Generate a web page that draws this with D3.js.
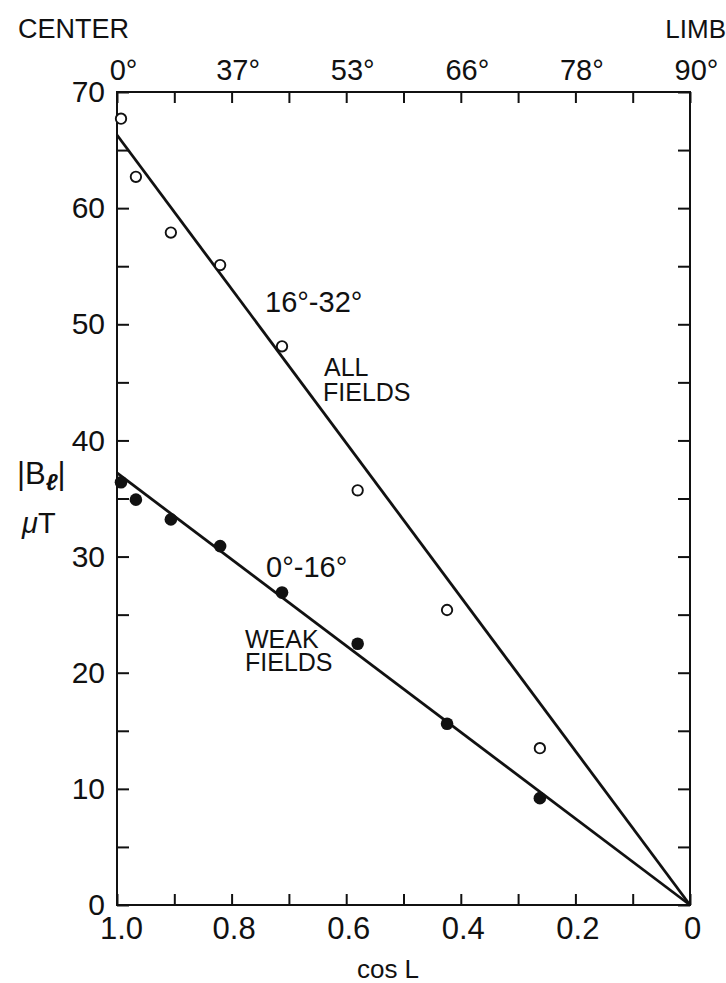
<!DOCTYPE html>
<html>
<head>
<meta charset="utf-8">
<script src="https://cdn.jsdelivr.net/npm/d3@7"></script>
<style>
  body { margin: 0; background: #fff; }
  svg text { font-family: "Liberation Sans", Arial, sans-serif; fill: #111; }
</style>
</head>
<body>
<svg id="chart" width="726" height="983"></svg>
<script>
// cos L of each latitude bin
const cosL = [0.993, 0.967, 0.906, 0.820, 0.712, 0.580, 0.424, 0.262];
// |B_l| in microtesla
const allFields = [67.7, 62.7, 57.9, 55.1, 48.1, 35.7, 25.4, 13.5];
const weakFields = [36.4, 34.9, 33.2, 30.9, 26.9, 22.5, 15.6, 9.2];
// fitted lines through the origin
const fitCos = [1, 0];
const fitAll = [66.3, 0];
const fitWeak = [37.2, 0];

const bottomTicks = [1.0, 0.8, 0.6, 0.4, 0.2, 0];
const bottomLabels = ["1.0", "0.8", "0.6", "0.4", "0.2", "0"];
const topTicks = [1.0, 0.8, 0.6, 0.4, 0.2, 0];
const topLabels = ["0°", "37°", "53°", "66°", "78°", "90°"];
const yTicks = [0, 10, 20, 30, 40, 50, 60, 70];

const mLeft = 117, mRight = 690, mTop = 92, mBottom = 905;

const svg = d3.select("#chart");

const x = d3.scaleLinear().domain([1, 0]).range([mLeft, mRight]);
const y = d3.scaleLinear().domain([0, 70]).range([mBottom, mTop]);

const minorX = d3.range(0, 11).map(i => i / 10);
const minorY = d3.range(0, 15).map(i => i * 5);

function styleAxis(g, size) {
  g.select(".domain").remove();
  g.selectAll("line").attr("stroke", "#111").attr("stroke-width", 2);
  g.selectAll("text").attr("font-size", size).attr("fill", "#111");
}

function pick(ticks, labels) {
  return d => {
    const i = ticks.findIndex(t => Math.abs(t - d) < 1e-6);
    return i < 0 ? "" : labels[i];
  };
}

// bottom axis
svg.append("g")
  .attr("transform", `translate(0,${mBottom})`)
  .call(d3.axisBottom(x).tickValues(minorX).tickSize(-11).tickPadding(12)
    .tickFormat(pick(bottomTicks, bottomLabels)))
  .call(g => styleAxis(g, 31))
  .call(g => g.selectAll("text").attr("dx", d => d === 1 ? 4 : 2));

// top axis
svg.append("g")
  .attr("transform", `translate(0,${mTop})`)
  .call(d3.axisTop(x).tickValues(minorX).tickSize(-11).tickPadding(12)
    .tickFormat(pick(topTicks, topLabels)))
  .call(g => styleAxis(g, 29))
  .call(g => g.selectAll("text").attr("dx", 6));

// left axis
svg.append("g")
  .attr("transform", `translate(${mLeft},0)`)
  .call(d3.axisLeft(y).tickValues(minorY).tickSize(-12).tickPadding(12)
    .tickFormat(d => yTicks.includes(d) ? d : ""))
  .call(g => styleAxis(g, 30));

// right axis
svg.append("g")
  .attr("transform", `translate(${mRight},0)`)
  .call(d3.axisRight(y).tickValues(minorY).tickSize(-12).tickFormat(""))
  .call(g => styleAxis(g, 30));

// frame
svg.append("rect")
  .attr("x", mLeft).attr("y", mTop)
  .attr("width", mRight - mLeft).attr("height", mBottom - mTop)
  .attr("fill", "none").attr("stroke", "#111").attr("stroke-width", 2);

// fitted lines
const line = d3.line().x(d => x(d[0])).y(d => y(d[1]));
[fitAll, fitWeak].forEach(vals => {
  svg.append("path")
    .datum(fitCos.map((c, i) => [c, vals[i]]))
    .attr("d", line)
    .attr("fill", "none").attr("stroke", "#111").attr("stroke-width", 2.8);
});

// open circles: all fields
svg.selectAll(".open").data(cosL.map((c, i) => [c, allFields[i]]))
  .enter().append("circle")
  .attr("cx", d => x(d[0])).attr("cy", d => y(d[1])).attr("r", 5.2)
  .attr("fill", "#fff").attr("stroke", "#111").attr("stroke-width", 1.9);

// filled circles: weak fields
svg.selectAll(".filled").data(cosL.map((c, i) => [c, weakFields[i]]))
  .enter().append("circle")
  .attr("cx", d => x(d[0])).attr("cy", d => y(d[1])).attr("r", 6.3)
  .attr("fill", "#111");

// annotations
function label(txt, lx, ly, size) {
  return svg.append("text").attr("x", lx).attr("y", ly).attr("font-size", size).text(txt);
}
label("CENTER", 18, 38, 27);
label("LIMB", 726, 38, 26).attr("text-anchor", "end");
label("16°-32°", 265, 312, 29);
label("ALL", 324, 376, 25);
label("FIELDS", 323, 401, 25);
label("0°-16°", 266, 577, 29);
label("WEAK", 245, 648, 25);
label("FIELDS", 245, 671, 25);
label("cos L", 388, 978, 26).attr("text-anchor", "middle");

// y title
const yt = svg.append("text").attr("x", 17).attr("y", 484).attr("font-size", 31);
yt.append("tspan").text("|B");
yt.append("tspan").attr("font-size", 23).attr("font-weight", "bold").attr("font-style", "italic")
  .attr("dy", 6).text("ℓ");
yt.append("tspan").attr("dy", -6).text("|");
const mu = svg.append("text").attr("x", 22).attr("y", 533).attr("font-size", 29);
mu.append("tspan").attr("font-style", "italic").text("μ");
mu.append("tspan").text("T");
</script>
</body>
</html>
